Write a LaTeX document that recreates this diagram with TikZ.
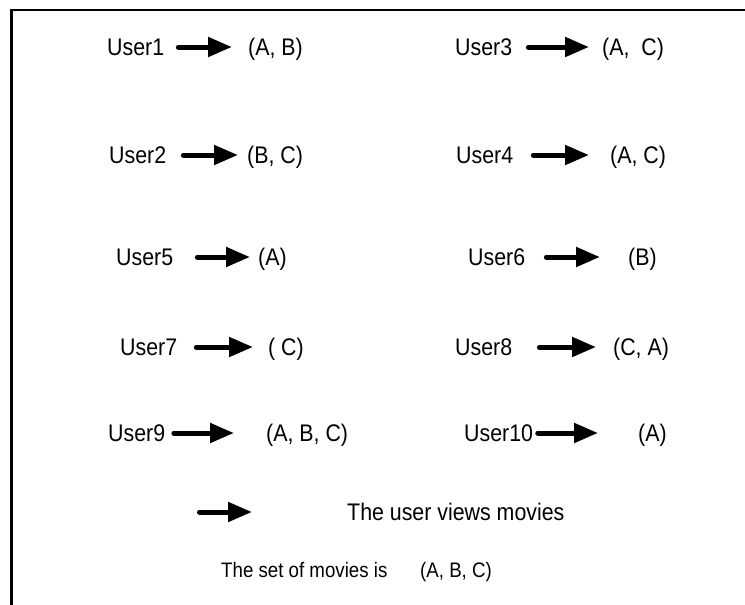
\documentclass[tikz,border=0pt]{standalone}
\usepackage{fontspec}
\setmainfont[FakeStretch=0.89]{Liberation Sans}
\usetikzlibrary{arrows.meta}
\tikzset{
  lbl/.style={anchor=west, inner sep=0pt, text height=17.2pt, text depth=0pt, font=\fontsize{24}{28}\selectfont},
  small/.style={anchor=west, inner sep=0pt, text height=15pt, text depth=0pt, font=\fontsize{21}{25}\selectfont},
  flow/.style={line width=5pt, line cap=round, -{Triangle[length=24pt,width=19pt]}},
  frame/.style={line width=2.5pt}
}
\begin{document}
\begin{tikzpicture}[x=1pt,y=-1pt]
\useasboundingbox (0,0) rectangle (745,605);
\draw[frame] (11.7,610) -- (11.7,10) -- (750,10);
% row 1
\node[lbl] (u1) at (107,47) {User1};
\node[lbl] (s1) at (248,47) {(A, B)};
\node[lbl] (u3) at (455,47) {User3};
\node[lbl] (s3) at (602,47) {(A,~~C)};
% row 2
\node[lbl] (u2) at (109,155) {User2};
\node[lbl] (s2) at (247,155) {(B, C)};
\node[lbl] (u4) at (456,155) {User4};
\node[lbl] (s4) at (610,155) {(A, C)};
% row 3
\node[lbl] (u5) at (116,257) {User5};
\node[lbl] (s5) at (258,257) {(A)};
\node[lbl] (u6) at (468,257) {User6};
\node[lbl] (s6) at (628,257) {(B)};
% row 4
\node[lbl] (u7) at (120,347) {User7};
\node[lbl] (s7) at (268,347) {( C)};
\node[lbl] (u8) at (455,347) {User8};
\node[lbl] (s8) at (613,347) {(C, A)};
% row 5
\node[lbl] (u9) at (108,433) {User9};
\node[lbl] (s9) at (266,433) {(A, B, C)};
\node[lbl] (u10) at (464,433) {User10};
\node[lbl] (s10) at (638,433) {(A)};
% arrows
\draw[flow, shorten <=14pt, shorten >=16pt] (u1) -- (s1);
\draw[flow, shorten <=16pt, shorten >=13pt] (u3) -- (s3);
\draw[flow, shorten <=17pt, shorten >=9pt] (u2) -- (s2);
\draw[flow, shorten <=20pt, shorten >=21pt] (u4) -- (s4);
\draw[flow, shorten <=24pt, shorten >=8pt] (u5) -- (s5);
\draw[flow, shorten <=21pt, shorten >=28pt] (u6) -- (s6);
\draw[flow, shorten <=19pt, shorten >=15pt] (u7) -- (s7);
\draw[flow, shorten <=27pt, shorten >=17pt] (u8) -- (s8);
\draw[flow, shorten <=8.5pt, shorten >=32pt] (u9) -- (s9);
\draw[flow, shorten <=4.5pt, shorten >=40pt] (u10) -- (s10);
% legend
\coordinate (la) at (199.5,512);
\coordinate (lb) at (252,512);
\draw[flow] (la) -- (lb);
\node[lbl] (legend) at (347,512) {The user views movies};
\node[small] (settext) at (221,570) {The set of movies is};
\node[small] (setval) at (420,570) {(A, B, C)};
\end{tikzpicture}
\end{document}
